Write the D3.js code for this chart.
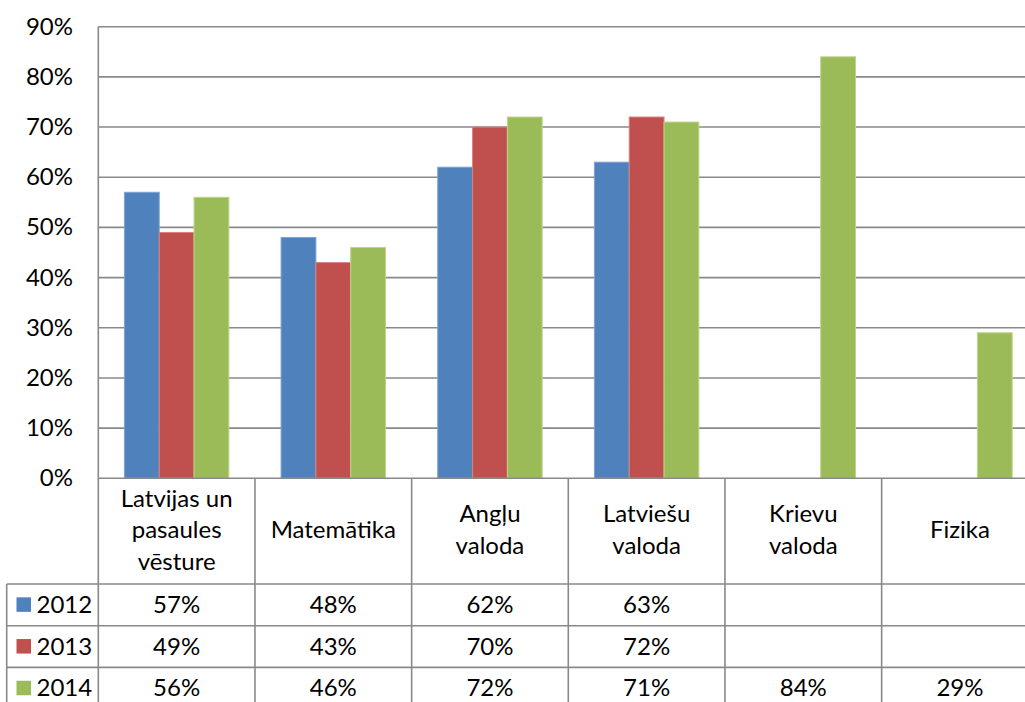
<!DOCTYPE html>
<html>
<head>
<meta charset="utf-8">
<script src="https://cdn.jsdelivr.net/npm/d3@7"></script>
<style>
  body { margin: 0; background: #fff; }
  text { font-family: Lato, "Open Sans", sans-serif; fill: #000; }
</style>
</head>
<body>
<div id="chart"></div>
<script>
(function() {

// data
var categories = ["Latvijas un pasaules vēsture", "Matemātika", "Angļu valoda", "Latviešu valoda", "Krievu valoda", "Fizika"];
var categoryLines = [["Latvijas un", "pasaules", "vēsture"], ["Matemātika"], ["Angļu", "valoda"], ["Latviešu", "valoda"], ["Krievu", "valoda"], ["Fizika"]];
var years = ["2012", "2013", "2014"];
var values2012 = [0.57, 0.48, 0.62, 0.63, null, null];
var values2013 = [0.49, 0.43, 0.70, 0.72, null, null];
var values2014 = [0.56, 0.46, 0.72, 0.71, 0.84, 0.29];
var yTicks = [0, 0.1, 0.2, 0.3, 0.4, 0.5, 0.6, 0.7, 0.8, 0.9];
var colors = ["#4F81BD", "#C0504D", "#9BBB59"];
var strokes = ["#7FA3D3", "#D98380", "#BCD58A"];

var series = [values2012, values2013, values2014];

var width = 1025, height = 702;
var lineColor = "#898989";
var fontSize = "24px";

var svg = d3.select("#chart").append("svg")
    .attr("width", width)
    .attr("height", height);

var x = d3.scaleBand()
    .domain(categories)
    .range([98.3, 1038.3]);

var xs = d3.scaleBand()
    .domain(years)
    .range([0, x.bandwidth()])
    .paddingInner(0)
    .paddingOuter(0.75);

var y = d3.scaleLinear()
    .domain([0, 0.9])
    .range([478.3, 26.7]);

var fmt = d3.format(".0%");

// gridlines
svg.append("g").selectAll("line")
    .data(yTicks.slice(1))
  .enter().append("line")
    .attr("x1", 98.3).attr("x2", width)
    .attr("y1", function(d) { return y(d); })
    .attr("y2", function(d) { return y(d); })
    .style("stroke", lineColor)
    .style("stroke-width", 1.6);

// y axis labels
svg.append("g").selectAll("text")
    .data(yTicks)
  .enter().append("text")
    .attr("x", 73)
    .attr("y", function(d) { return y(d) + 8; })
    .attr("text-anchor", "end")
    .style("font-size", fontSize)
    .text(fmt);

// bars
years.forEach(function(yr, si) {
  var vals = series[si];
  svg.append("g").selectAll("rect")
      .data(categories.map(function(c, i) { return {cat: c, v: vals[i]}; })
        .filter(function(d) { return d.v != null; }))
    .enter().append("rect")
      .attr("x", function(d) { return x(d.cat) + xs(yr); })
      .attr("width", xs.bandwidth())
      .attr("y", function(d) { return y(d.v); })
      .attr("height", function(d) { return y(0) - y(d.v); })
      .style("fill", colors[si])
      .style("stroke", strokes[si])
      .style("stroke-width", 1);
});

// table
var rowTop = 584, rowH = 41.7;
var tbl = svg.append("g").style("stroke", lineColor).style("stroke-width", 1.6);

// y axis line + table top
tbl.append("line").attr("x1", 98.3).attr("x2", 98.3).attr("y1", y(0.9)).attr("y2", height);
tbl.append("line").attr("x1", 98.3).attr("x2", width).attr("y1", y(0)).attr("y2", y(0));

// row lines
[0, 1, 2].forEach(function(i) {
  tbl.append("line")
    .attr("x1", 6.7).attr("x2", width)
    .attr("y1", rowTop + i * rowH).attr("y2", rowTop + i * rowH);
});
tbl.append("line").attr("x1", 6.7).attr("x2", 6.7).attr("y1", rowTop).attr("y2", height);

// column lines
tbl.selectAll(".col")
    .data(categories)
  .enter().append("line")
    .attr("x1", function(d) { return x(d) + x.bandwidth(); })
    .attr("x2", function(d) { return x(d) + x.bandwidth(); })
    .attr("y1", y(0)).attr("y2", height);

// category labels
var labG = svg.append("g");
categories.forEach(function(c, i) {
  var lines = categoryLines[i];
  var t = labG.append("text")
      .attr("text-anchor", "middle")
      .style("font-size", fontSize);
  lines.forEach(function(l, j) {
    t.append("tspan")
      .attr("x", x(c) + x.bandwidth() / 2)
      .attr("y", 538 + (j - (lines.length - 1) / 2) * 31.5)
      .text(l);
  });
});

// legend + values rows
years.forEach(function(yr, si) {
  var cy = rowTop + si * rowH + rowH / 2;
  svg.append("rect")
      .attr("x", 16.5).attr("y", cy - 7.5)
      .attr("width", 14.5).attr("height", 14.5)
      .style("fill", colors[si]);
  svg.append("text")
      .attr("x", 36.5).attr("y", cy + 8)
      .style("font-size", fontSize)
      .text(yr);
  svg.append("g").selectAll("text")
      .data(categories.map(function(c, i) { return {cat: c, v: series[si][i]}; })
        .filter(function(d) { return d.v != null; }))
    .enter().append("text")
      .attr("x", function(d) { return x(d.cat) + x.bandwidth() / 2; })
      .attr("y", cy + 8)
      .attr("text-anchor", "middle")
      .style("font-size", fontSize)
      .text(function(d) { return fmt(d.v); });
});

})()
</script>
</body>
</html>
